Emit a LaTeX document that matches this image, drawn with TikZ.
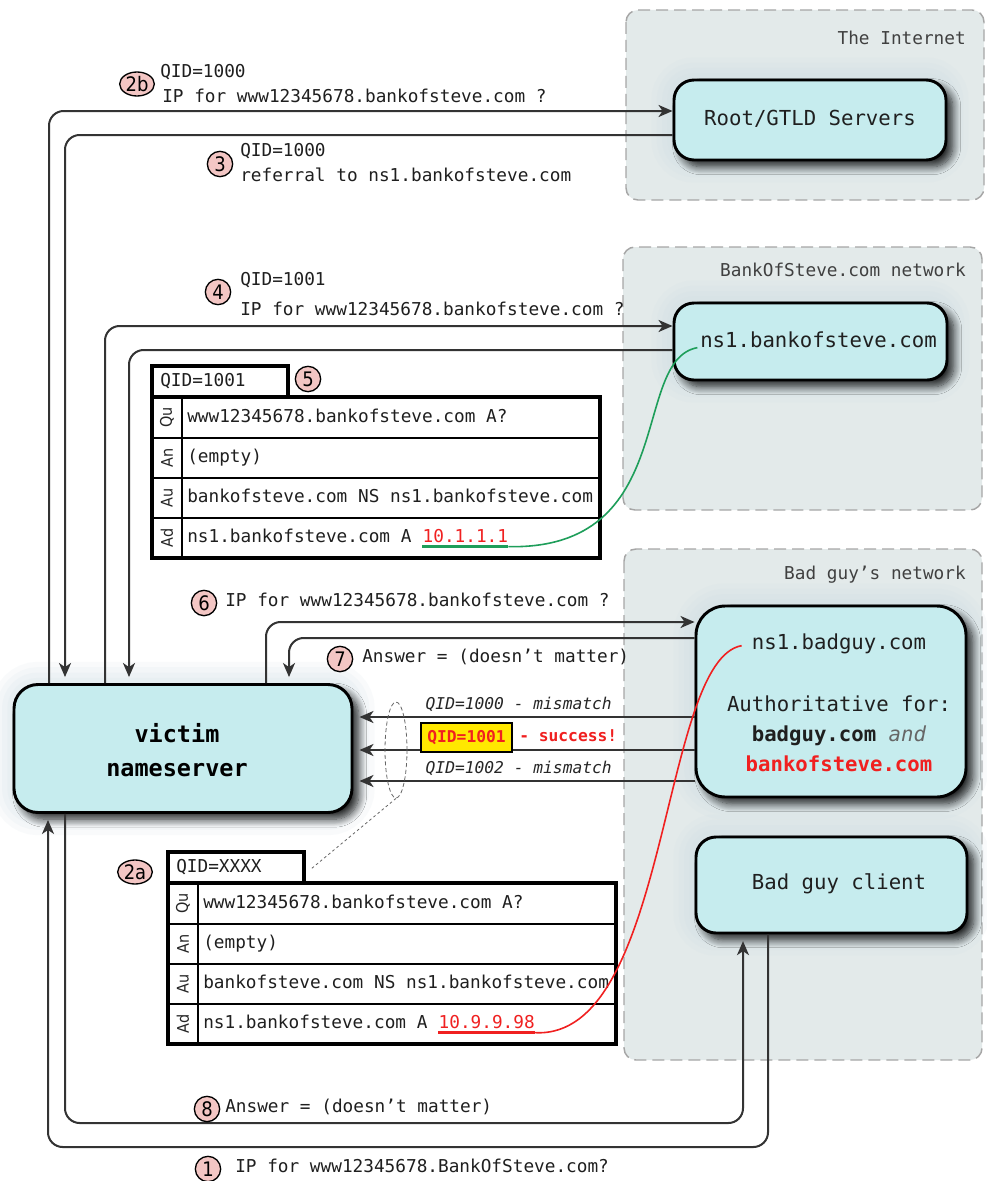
\documentclass[tikz,border=0pt]{standalone}
\usepackage{fontspec}
\setmainfont{DejaVu Sans}
\setmonofont{DejaVu Sans Mono}
\newfontfamily\condfont{DejaVu Sans Condensed}
\usetikzlibrary{arrows.meta,shapes.geometric,shadows.blur}
\definecolor{nodefill}{HTML}{C6ECEE}
\definecolor{groupfill}{HTML}{E3EAEA}
\definecolor{groupline}{HTML}{A6A6A6}
\definecolor{halo}{HTML}{CFDEE6}
\definecolor{circfill}{HTML}{F3C6C4}
\definecolor{greenline}{HTML}{1E9E5A}
\definecolor{redtxt}{HTML}{F02020}
\definecolor{yel}{HTML}{FFE800}
\tikzset{
 srv/.style={draw=black, line width=2.2pt, fill=nodefill, rounded corners=15pt, inner sep=0pt,
   preaction={draw=halo, line width=34pt, draw opacity=0.12},
   preaction={draw=halo, line width=26pt, draw opacity=0.12},
   preaction={draw=halo, line width=18pt, draw opacity=0.15},
   preaction={draw=halo, line width=10pt, draw opacity=0.15},
   blur shadow={shadow xshift=5pt, shadow yshift=-5pt, shadow blur steps=10, shadow blur radius=6pt, shadow opacity=85}},
 grp/.style={draw=groupline, fill=groupfill, dash pattern=on 9pt off 4.5pt, line width=1.1pt, rounded corners=9pt},
 conn/.style={draw=black!80, line width=1.5pt, rounded corners=11pt},
 arrw/.style={-{Stealth[length=10.5pt,width=9pt,inset=3pt]}},
 txts/.style={font=\fontsize{13.3}{16}\ttfamily, inner sep=0pt, text=black!88},
 txtb/.style={font=\fontsize{15.5}{18}\ttfamily, inner sep=0pt, text=black!88},
 stepnum/.style={draw=black, line width=1pt, fill=circfill, circle, inner sep=0pt, minimum size=19pt, font=\fontsize{15}{15}\condfont},
 stepnumw/.style={stepnum, ellipse, minimum width=26pt, minimum height=18pt},
 italtxt/.style={font=\fontsize{12.2}{14}\ttfamily\itshape, inner sep=0pt, text=black!85},
 rowlbl/.style={rotate=90, font=\fontsize{12}{12}\condfont, inner sep=0pt, text=black!85},
}
\newcommand\dnspacket[5]{%
\begin{scope}[shift={#1}]
 \draw[line width=2.6pt, fill=white] (0,0) rectangle (136,31);
 \draw[line width=2.8pt, fill=white] (0,31) rectangle (448,192);
 \draw[line width=1.9pt] (0,72) -- (448,72) (0,112) -- (448,112) (0,152) -- (448,152) (30,31) -- (30,192);
 \node[txts, anchor=mid west] at (8,17) {#2};
 \node[rowlbl] at (15,51.5) {Qu};
 \node[rowlbl] at (15,92) {An};
 \node[rowlbl] at (15,132) {Au};
 \node[rowlbl] at (15,172) {Ad};
 \node[txts, anchor=mid west] at (35,52.5) {www12345678.bankofsteve.com A?};
 \node[txts, anchor=mid west] at (35,93) {(empty)};
 \node[txts, anchor=mid west] at (35,133) {bankofsteve.com NS ns1.bankofsteve.com};
 \node[txts, anchor=mid west] (ad#4) at (35,173) {ns1.bankofsteve.com A};
 \node[txts, anchor=base west, text=redtxt, xshift=8pt] (ip#4) at (ad#4.base east) {#3};
 \draw[#5, line width=2.4pt] ([yshift=-3pt]ip#4.base west) -- ([yshift=-3pt]ip#4.base east) coordinate (u#4);
\end{scope}}
\begin{document}
\begin{tikzpicture}[x=0.75pt,y=-0.75pt]
\useasboundingbox (0,0) rectangle (986,1181);
\fill[white] (0,0) rectangle (986,1181);
% groups
\path[grp] (626,10) rectangle (984,200);
\path[grp] (623,247) rectangle (982,510);
\path[grp] (624,549) rectangle (982,1060);
\node[txts, anchor=mid east, text=black!75] at (966,41) {The Internet};
\node[txts, anchor=mid east, text=black!75] at (966,273) {BankOfSteve.com network};
\node[txts, anchor=mid east, text=black!75] at (966,576) {Bad guy’s network};
% servers
\node[srv, minimum width=204pt, minimum height=60pt] (root) at (810,120) {};
\node[srv, minimum width=204.75pt, minimum height=57.75pt] (nsbos) at (810.5,341.5) {};
\node[srv, rounded corners=22pt, minimum width=202.5pt, minimum height=143.25pt] (nsbad) at (831,701.5) {};
\node[srv, minimum width=203.25pt, minimum height=72pt] (client) at (831.5,885) {};
\node[srv, rounded corners=18pt, minimum width=253.5pt, minimum height=96pt] (victim) at (183,748.5) {};
\node[txtb, anchor=mid] (roottxt) at (810,122) {Root/GTLD Servers};
\node[txtb, anchor=mid] (nsbostxt) at (818.5,344) {ns1.bankofsteve.com};
\node[txtb, anchor=mid] (nsbadtxt) at (839,646) {ns1.badguy.com};
\node[txtb, align=center, font=\fontsize{15.5}{22.5}\ttfamily] (authtxt) at (839,734) {Authoritative for:\\ \textbf{badguy.com} \textcolor{black!60}{\textit{and}}\\ \textcolor{redtxt}{\textbf{bankofsteve.com}}};
\node[txtb, anchor=mid] (clienttxt) at (839,886) {Bad guy client};
\node[txtb, align=center, font=\fontsize{17.6}{25.5}\ttfamily\bfseries, text=black] (victimtxt) at (177,750) {victim\\nameserver};
% connectors
\coordinate (c2b) at (49,111);
\draw[conn,arrw] (victim.north -| c2b) |- (root.west |- c2b);
\coordinate (c3) at (65,135);
\draw[conn,arrw,shorten >=4.5pt] (root.west |- c3) -| (victim.north -| c3);
\coordinate (c4) at (105,326);
\draw[conn,arrw] (victim.north -| c4) |- (nsbos.west |- c4);
\coordinate (c5) at (129,350);
\draw[conn,arrw,shorten >=4.5pt] (nsbos.west |- c5) -| (victim.north -| c5);
\coordinate (c6) at (266,622);
\draw[conn,arrw] (victim.north -| c6) |- (nsbad.west |- c6);
\coordinate (c7) at (289,638);
\draw[conn,arrw,shorten >=4.5pt] (nsbad.west |- c7) -| (victim.north -| c7);
\coordinate (r1) at (0,717);
\coordinate (r2) at (0,750);
\coordinate (r3) at (0,781);
\draw[conn,arrw,shorten >=4.5pt] (nsbad.west |- r1) -- (victim.east |- r1);
\draw[conn,arrw,shorten >=4.5pt] (nsbad.west |- r2) -- (victim.east |- r2);
\draw[conn,arrw,shorten >=4.5pt] (nsbad.west |- r3) -- (victim.east |- r3);
\coordinate (c1a) at (768,1147);
\coordinate (c1b) at (48,1147);
\draw[conn,arrw,shorten >=4.5pt] (client.south -| c1a) -- (c1a) -- (c1b) -- (victim.south -| c1b);
\coordinate (c8a) at (65,1123);
\coordinate (c8b) at (743,1123);
\draw[conn,arrw,shorten >=5pt] (victim.south -| c8a) -- (c8a) -- (c8b) -- (client.south -| c8b);
% step labels
\node[stepnumw] (n2b) at (137,84) {2b};
\node[txts, anchor=mid west] at (160,74) {QID=1000};
\node[txts, anchor=mid west] at (162,99) {IP for www12345678.bankofsteve.com ?};
\node[stepnum] (n3) at (220,164) {3};
\node[txts, anchor=mid west] at (240,153) {QID=1000};
\node[txts, anchor=mid west] at (240,178) {referral to ns1.bankofsteve.com};
\node[stepnum] (n4) at (218,292) {4};
\node[txts, anchor=mid west] at (240,282) {QID=1001};
\node[txts, anchor=mid west] at (240,312) {IP for www12345678.bankofsteve.com ?};
\node[stepnum] (n6) at (204,603) {6};
\node[txts, anchor=mid west] at (225,603) {IP for www12345678.bankofsteve.com ?};
\node[stepnum] (n7) at (340,659) {7};
\node[txts, anchor=mid west] at (362,659) {Answer = (doesn’t matter)};
\node[italtxt, anchor=mid east] at (612,706) {QID=1000 - mismatch};
\node[draw=black, line width=1.8pt, fill=yel, text=redtxt, font=\fontsize{12.2}{14}\ttfamily\bfseries, minimum width=68.25pt, minimum height=21.5pt, inner sep=0pt] (qbox) at (466.5,737.5) {QID=1001};
\node[font=\fontsize{12.2}{14}\ttfamily\bfseries, inner sep=0pt, text=redtxt, anchor=mid west] at (519,738) {- success!};
\node[italtxt, anchor=mid east] at (612,770) {QID=1002 - mismatch};
\node[stepnum] (n8) at (207,1109) {8};
\node[txts, anchor=mid west] at (225,1109) {Answer = (doesn’t matter)};
\node[stepnum] (n1) at (208,1169) {1};
\node[txts, anchor=mid west] at (235,1169) {IP for www12345678.BankOfSteve.com?};
% packets
\dnspacket{(152,366)}{QID=1001}{10.1.1.1}{5}{greenline}
\node[stepnum] (n5) at (308,379) {5};
\dnspacket{(168,852)}{QID=XXXX}{10.9.9.98}{2a}{redtxt}
\node[stepnumw] (n2a) at (135,872) {2a};
% dashed ellipse
\node[draw=black!60, dash pattern=on 3pt off 2pt, ellipse, minimum width=16.5pt, minimum height=72pt, inner sep=0pt, line width=0.6pt] (ell) at (396,750) {};
\coordinate (lnk) at (311,869);
\draw[black!60, dash pattern=on 2pt off 2pt, line width=0.6pt] (ell.south) -- (lnk);
% curves
\draw[greenline, line width=1.2pt] (u5) .. controls (680,550) and (630,360) .. ([xshift=-2pt]nsbostxt.base west);
\draw[redtxt, line width=1.2pt] (u2a) .. controls (670,1040) and (660,660) .. ([xshift=-7.5pt,yshift=3pt]nsbadtxt.base west);
\end{tikzpicture}
\end{document}
